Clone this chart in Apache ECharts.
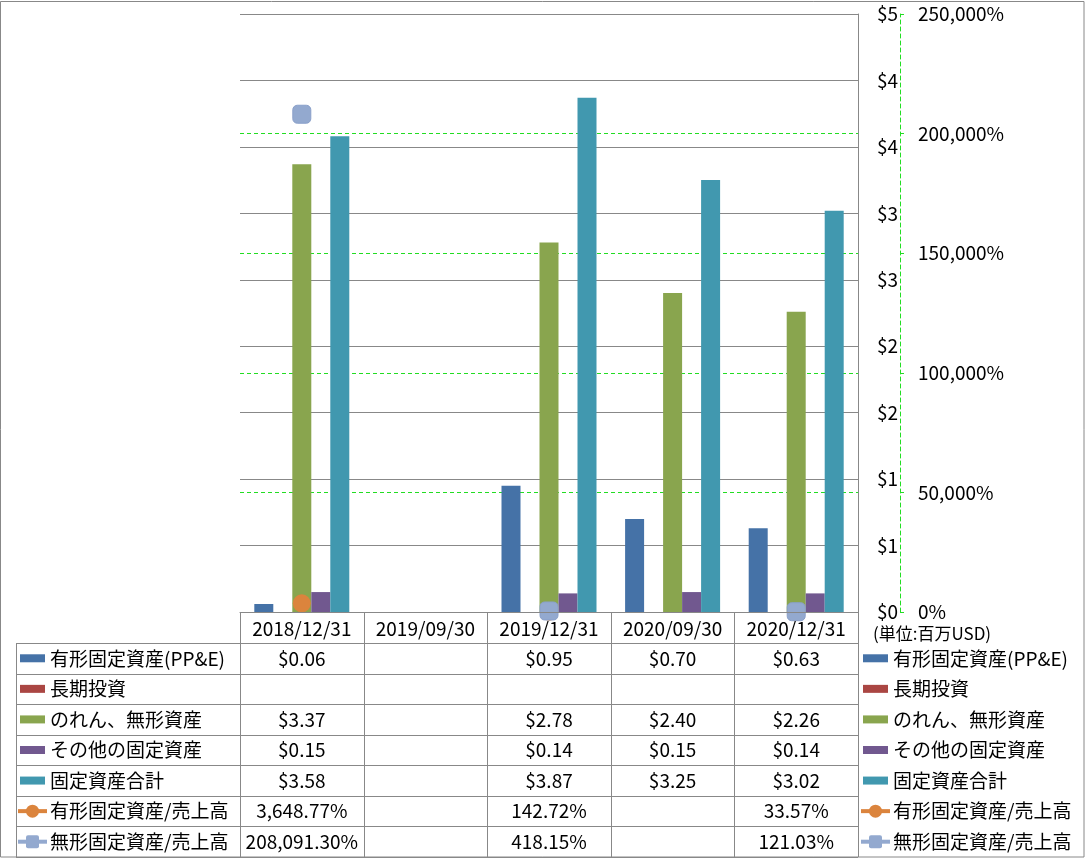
<!DOCTYPE html>
<html>
<head>
<meta charset="utf-8">
<script src="https://cdn.jsdelivr.net/npm/echarts@6/dist/echarts.min.js"></script>
<style>
html,body{margin:0;padding:0;background:#fff;}
#c{width:1086px;height:858px;}
</style>
</head>
<body>
<div id="c"></div>
<script>
// ---- data ----
const categories = ['2018/12/31', '2019/09/30', '2019/12/31', '2020/09/30', '2020/12/31'];
const ppe        = [0.06, null, 0.95, 0.70, 0.63];
const ltInvest   = [null, null, null, null, null];
const goodwill   = [3.37, null, 2.78, 2.40, 2.26];
const otherFixed = [0.15, null, 0.14, 0.15, 0.14];
const totalFixed = [3.58, null, 3.87, 3.25, 3.02];
const ppeRatio    = [3648.77, null, 142.72, null, 33.57];
const intangRatio = [208091.30, null, 418.15, null, 121.03];
const seriesNames = ['有形固定資産(PP&E)', '長期投資', 'のれん、無形資産', 'その他の固定資産', '固定資産合計', '有形固定資産/売上高', '無形固定資産/売上高'];
const leftAxis  = {min: 0, max: 4.5, interval: 0.5};
const rightAxis = {min: 0, max: 250000, interval: 50000};
const unitLabel = '(単位:百万USD)';

// ---- style ----
const colors = ['#4572A7', '#AA4643', '#89A54E', '#71588F', '#4198AF', '#DB843D', '#93A9CF'];
const FONT = '"Noto Sans CJK JP", "Noto Sans", sans-serif';
const GRID = {left: 240, top: 14, width: 618, height: 598};
const GRAY = '#888888';
const GREEN = '#22DD22';

const chart = echarts.init(document.getElementById('c'), null, {renderer: 'canvas'});

const barData = [ppe, ltInvest, goodwill, otherFixed, totalFixed];
const lineData = [ppeRatio, intangRatio];

const series = [];
barData.forEach((d, i) => {
  series.push({
    name: seriesNames[i], type: 'bar', data: d, yAxisIndex: 0,
    barWidth: 19, barGap: '0%', itemStyle: {color: colors[i]}, z: 2
  });
});
series.push({
  name: seriesNames[5], type: 'line', data: ppeRatio, yAxisIndex: 1,
  symbol: 'circle', symbolSize: 18, connectNulls: false,
  itemStyle: {color: colors[5]}, lineStyle: {color: colors[5], width: 4}, z: 5
});
series.push({
  name: seriesNames[6], type: 'line', data: intangRatio, yAxisIndex: 1,
  symbol: 'roundRect', symbolSize: 18, connectNulls: false,
  itemStyle: {color: colors[6], borderColor: '#8AA0CA', borderWidth: 1}, lineStyle: {color: colors[6], width: 4}, z: 6
});

// ---- table & legends as graphic ----
const fmtMoney = v => v == null ? '' : '$' + v.toFixed(2);
const fmtPct = v => v == null ? '' : v.toLocaleString('en-US', {minimumFractionDigits: 2, maximumFractionDigits: 2}) + '%';

const tableLeft = 16;
const headerTop = GRID.top + GRID.height; // 612
const headerH = 31;
const rowTop0 = headerTop + headerH;       // 643
const rowH = 30.57;
const nRows = seriesNames.length;
const colW = GRID.width / categories.length;
const right = GRID.left + GRID.width;
const bottom = rowTop0 + nRows * rowH;

const g = [];
const line = (x1, y1, x2, y2, stroke, w) => g.push({type: 'line', silent: true, z: 100,
  shape: {x1, y1, x2, y2}, style: {stroke: stroke || GRAY, lineWidth: w || 1}});
const text = (x, y, t, align, size) => g.push({type: 'text', silent: true, z: 101, x, y,
  style: {text: t, font: (size || 19) + 'px ' + FONT, fill: '#000', textAlign: align || 'center', textVerticalAlign: 'middle'}});

// outer border
g.push({type: 'rect', silent: true, z: 100, shape: {x: 0.5, y: 1.5, width: 1083.5, height: 855.5}, style: {fill: null, stroke: GRAY, lineWidth: 1}});

// horizontal lines
line(GRID.left, Math.round(headerTop) + 0.5, right, Math.round(headerTop) + 0.5);
for (let r = 0; r <= nRows; r++) {
  const y = Math.round(rowTop0 + r * rowH) + 0.5;
  line(tableLeft, y, right, y);
}
// vertical lines
line(tableLeft + 0.5, rowTop0, tableLeft + 0.5, bottom);
for (let c = 0; c <= categories.length; c++) {
  const x = Math.round(GRID.left + c * colW) + 0.5;
  line(x, c === categories.length ? GRID.top : headerTop, x, bottom);
}
// header labels
categories.forEach((cat, c) => text(GRID.left + (c + 0.5) * colW, headerTop + headerH / 2 + 1, cat, 'center', 19));
// values
const allData = barData.concat(lineData);
allData.forEach((d, r) => {
  const cy = rowTop0 + (r + 0.5) * rowH;
  d.forEach((v, c) => {
    const t = r < 5 ? fmtMoney(v) : fmtPct(v);
    if (t) text(GRID.left + (c + 0.5) * colW, cy, t, 'center', 19);
  });
});
// legends (left in table, right side)
function legendItem(x, r) {
  const cy = rowTop0 + (r + 0.5) * rowH;
  const col = colors[r];
  if (r < 5) {
    g.push({type: 'rect', silent: true, z: 101, shape: {x: x, y: cy - 4, width: 25, height: 8}, style: {fill: col}});
  } else {
    g.push({type: 'line', silent: true, z: 101, shape: {x1: x - 2, y1: cy, x2: x + 27, y2: cy}, style: {stroke: col, lineWidth: 4}});
    if (r === 5) g.push({type: 'circle', silent: true, z: 102, shape: {cx: x + 12.5, cy: cy, r: 6.5}, style: {fill: col}});
    else g.push({type: 'rect', silent: true, z: 102, shape: {x: x + 6, y: cy - 6.5, width: 13, height: 13, r: 2}, style: {fill: col}});
  }
  text(x + 30, cy, seriesNames[r], 'left', 19);
}
for (let r = 0; r < nRows; r++) { legendItem(20, r); legendItem(863, r); }
// unit label
text(873, 634, unitLabel, 'left', 17);

const option = {
  animation: false,
  backgroundColor: '#fff',
  textStyle: {fontFamily: FONT},
  grid: GRID,
  xAxis: {
    type: 'category', data: categories,
    axisLine: {show: true, lineStyle: {color: GRAY}},
    axisTick: {show: false}, axisLabel: {show: false}, splitLine: {show: false}
  },
  yAxis: [{
    type: 'value', position: 'right', min: leftAxis.min, max: leftAxis.max, interval: leftAxis.interval,
    axisLine: {show: true, lineStyle: {color: GRAY}}, axisTick: {show: false},
    axisLabel: {margin: 19, color: '#000', fontSize: 19, fontFamily: FONT,
      formatter: v => '$' + Math.round(v)},
    splitLine: {show: true, lineStyle: {color: GRAY, width: 1}}
  }, {
    type: 'value', position: 'right', offset: 42, min: rightAxis.min, max: rightAxis.max, interval: rightAxis.interval,
    axisLine: {show: true, lineStyle: {color: GREEN, type: [4, 3]}},
    axisTick: {show: true, length: 4, lineStyle: {color: GREEN}},
    axisLabel: {margin: 18, color: '#000', fontSize: 19, fontFamily: FONT,
      formatter: v => v.toLocaleString('en-US') + '%'},
    splitLine: {show: true, showMinLine: false, showMaxLine: false, lineStyle: {color: GREEN, type: [4, 3], width: 1}}
  }],
  series: series,
  graphic: g
};
chart.setOption(option);
</script>
</body>
</html>
